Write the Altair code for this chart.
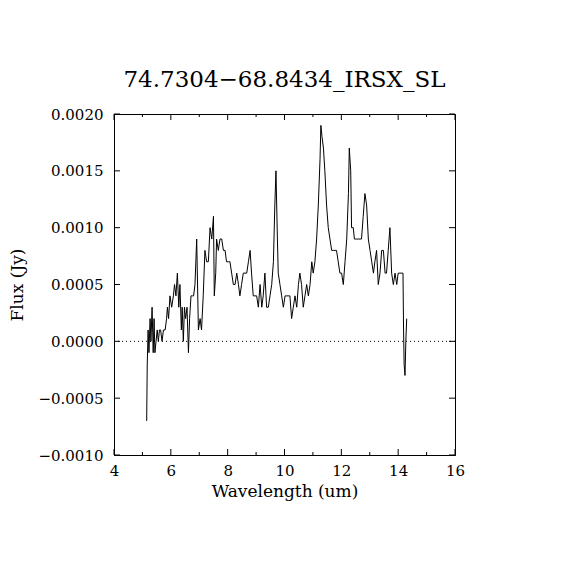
import altair as alt
import pandas as pd

wavelength = [
    5.15, 5.17, 5.20, 5.23, 5.27, 5.30, 5.34, 5.38, 5.41, 5.44, 5.48, 5.52, 5.56, 5.60, 5.64, 5.69,
    5.74, 5.80, 5.85, 5.88, 5.92, 5.97, 6.03, 6.09, 6.13, 6.18, 6.23, 6.28, 6.32, 6.37, 6.40, 6.44,
    6.48, 6.52, 6.57, 6.62, 6.66, 6.71, 6.76, 6.80, 6.85, 6.91, 6.97, 7.03, 7.08, 7.14, 7.20, 7.26,
    7.32, 7.38, 7.44, 7.50, 7.53, 7.58, 7.61, 7.67, 7.73, 7.79, 7.85, 7.91, 7.96, 8.02, 8.08, 8.14,
    8.20, 8.26, 8.32, 8.38, 8.43, 8.49, 8.55, 8.61, 8.67, 8.73, 8.79, 8.84, 8.90, 8.96, 9.02, 9.08,
    9.14, 9.20, 9.25, 9.31, 9.37, 9.43, 9.49, 9.55, 9.61, 9.66, 9.70, 9.75, 9.78, 9.84, 9.90, 9.96,
    10.02, 10.07, 10.13, 10.19, 10.25, 10.31, 10.37, 10.43, 10.49, 10.54, 10.60, 10.66, 10.72, 10.78,
    10.84, 10.90, 10.96, 11.01, 11.07, 11.13, 11.19, 11.25, 11.28, 11.32, 11.37, 11.42, 11.48, 11.54,
    11.60, 11.66, 11.72, 11.78, 11.83, 11.89, 11.95, 12.01, 12.07, 12.13, 12.19, 12.25, 12.28, 12.33,
    12.36, 12.42, 12.46, 12.54, 12.60, 12.66, 12.71, 12.77, 12.83, 12.89, 12.95, 13.01, 13.07, 13.13,
    13.18, 13.24, 13.30, 13.36, 13.42, 13.48, 13.54, 13.59, 13.65, 13.71, 13.77, 13.83, 13.89, 13.95,
    14.00, 14.06, 14.12, 14.17, 14.19, 14.21, 14.24, 14.27, 14.30,
]
flux = [
    -0.0007, -0.0002, 0.0001, -0.0001, 0.0002, 0.0, 0.0003, -0.0001, 0.0002, -0.0001, 0.0, 0.0001, 0.0, 0.0001, 0.0001, 0.0,
    0.0001, 0.0001, 0.0002, 0.0003, 0.0002, 0.0004, 0.0003, 0.0004, 0.0005, 0.0004, 0.0006, 0.0003, 0.0005, 0.0001, 0.0003, 0.0,
    0.0003, 0.0002, 0.0003, -0.0001, 0.0002, 0.0004, 0.0004, 0.0004, 0.0005, 0.0009, 0.0001, 0.0002, 0.0001, 0.0004, 0.0008, 0.0007,
    0.0007, 0.0010, 0.0009, 0.0011, 0.0004, 0.0006, 0.0009, 0.0008, 0.0009, 0.0009, 0.0008, 0.0008, 0.0007, 0.0007, 0.0007, 0.0006,
    0.0005, 0.0005, 0.0006, 0.0005, 0.0004, 0.0005, 0.0006, 0.0006, 0.0006, 0.0007, 0.0008, 0.0006, 0.0004, 0.0004, 0.0004, 0.0003,
    0.0005, 0.0003, 0.0004, 0.0006, 0.0003, 0.0003, 0.0004, 0.0005, 0.0007, 0.0012, 0.0015, 0.0009, 0.0006, 0.0005, 0.0004, 0.0003,
    0.0004, 0.0004, 0.0004, 0.0004, 0.0002, 0.0003, 0.0004, 0.0003, 0.0005, 0.0006, 0.0005, 0.0003, 0.0004, 0.0005,
    0.0004, 0.0005, 0.0007, 0.0006, 0.0007, 0.0009, 0.0012, 0.0016, 0.0019, 0.0018, 0.0017, 0.0015, 0.0012, 0.0010,
    0.0009, 0.0008, 0.0008, 0.0008, 0.0008, 0.0007, 0.0006, 0.0006, 0.0005, 0.0007, 0.0009, 0.0013, 0.0017, 0.0015,
    0.0010, 0.0010, 0.0009, 0.0009, 0.0009, 0.0009, 0.0009, 0.0011, 0.0013, 0.0012, 0.0009, 0.0008, 0.0007, 0.0006,
    0.0007, 0.0008, 0.0005, 0.0006, 0.0008, 0.0008, 0.0006, 0.0006, 0.0008, 0.0010, 0.0006, 0.0005, 0.0006, 0.0005,
    0.0006, 0.0006, 0.0006, 0.0006, 0.0001, -0.0002, -0.0003, 0.0000, 0.0002,
]

x_major = [4, 6, 8, 10, 12, 14, 16]
x_minor = [5, 7, 9, 11, 13, 15]
y_major = [-0.0010, -0.0005, 0.0, 0.0005, 0.0010, 0.0015, 0.0020]

title_text = "74.7304\u221268.8434_IRSX_SL"
FONT = "DejaVu Serif"
W = 341
H = 341

spec = pd.DataFrame({"wavelength": wavelength, "flux": flux})
xmaj = pd.DataFrame({"t": x_major})
xmin = pd.DataFrame({"t": x_minor})
ymaj = pd.DataFrame({"t": y_major})

xscale = alt.Scale(domain=[4, 16], nice=False, zero=False)
yscale = alt.Scale(domain=[-0.0010, 0.0020], nice=False, zero=False)

common = dict(
    tickSize=0, grid=False, domainColor="black", domainWidth=1, labelFlush=False,
    labelOverlap=False, labelFont=FONT, labelFontSize=15, labelColor="black",
    titleFont=FONT, titleFontSize=17, titleFontWeight="normal", titleColor="black",
)
x_axis = alt.Axis(values=x_major, format="d", labelPadding=8,
                  title="Wavelength (um)", titlePadding=5, **common)
y_axis = alt.Axis(values=y_major, format=".4f", labelPadding=11,
                  title="Flux (Jy)", titlePadding=11, **common)

line = alt.Chart(spec).mark_line(color="black", strokeWidth=1).encode(
    x=alt.X("wavelength:Q", scale=xscale, axis=x_axis),
    y=alt.Y("flux:Q", scale=yscale, axis=y_axis),
)

zero = alt.Chart(pd.DataFrame({"z": [0.0]})).mark_rule(
    color="black", strokeWidth=1, strokeDash=[1, 3]
).encode(y=alt.Y("z:Q", scale=yscale))

def xticks(df, length):
    b = alt.Chart(df).mark_rule(color="black", strokeWidth=1).encode(
        x=alt.X("t:Q", scale=xscale), y=alt.value(H), y2=alt.value(H - length))
    t = alt.Chart(df).mark_rule(color="black", strokeWidth=1).encode(
        x=alt.X("t:Q", scale=xscale), y=alt.value(0), y2=alt.value(length))
    return [b, t]

yl = alt.Chart(ymaj).mark_rule(color="black", strokeWidth=1).encode(
    y=alt.Y("t:Q", scale=yscale), x=alt.value(0), x2=alt.value(6))
yr = alt.Chart(ymaj).mark_rule(color="black", strokeWidth=1).encode(
    y=alt.Y("t:Q", scale=yscale), x=alt.value(W), x2=alt.value(W - 6))

chart = alt.layer(
    zero, *xticks(xmaj, 6), *xticks(xmin, 3), yl, yr, line
).properties(
    width=W, height=H,
    background="white",
    title=alt.TitleParams(title_text, font=FONT, fontSize=23, fontWeight="normal",
                          color="black", offset=15, anchor="middle"),
    autosize=alt.AutoSizeParams(type="none"),
    padding={"left": 106, "top": 106, "right": 100, "bottom": 90},
).configure_view(
    stroke="black", strokeWidth=1
)

chart.save("out.html", embed_options={"renderer": "svg", "actions": False})
